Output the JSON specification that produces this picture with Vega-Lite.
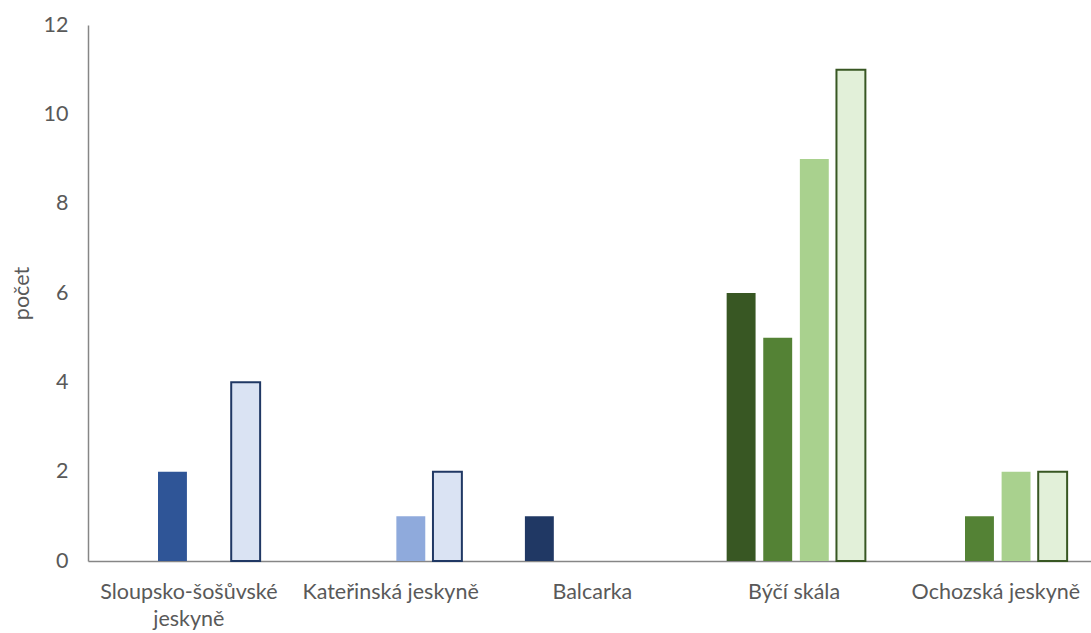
{
  "$schema": "https://vega.github.io/schema/vega-lite/v6.json",
  "width": 1003,
  "height": 536,
  "autosize": {"type": "none"},
  "padding": {"left": 88, "top": 25, "right": 0, "bottom": 72},
  "background": "white",
  "config": {
    "view": {"stroke": null},
    "font": "Lato",
    "axis": {
      "labelFont": "Lato",
      "titleFont": "Lato",
      "labelFontSize": 21.5,
      "titleFontSize": 21.5,
      "labelColor": "#595959",
      "titleColor": "#595959",
      "titleFontWeight": "normal",
      "domainColor": "#868686",
      "domainWidth": 1.5,
      "grid": false,
      "ticks": false
    }
  },
  "data": {
    "values": [
      {"jeskyne": "Sloupsko-šošůvské jeskyně", "serie": 2, "pocet": 2},
      {"jeskyne": "Sloupsko-šošůvské jeskyně", "serie": 4, "pocet": 4},
      {"jeskyne": "Kateřinská jeskyně", "serie": 3, "pocet": 1},
      {"jeskyne": "Kateřinská jeskyně", "serie": 4, "pocet": 2},
      {"jeskyne": "Balcarka", "serie": 1, "pocet": 1},
      {"jeskyne": "Býčí skála", "serie": 1, "pocet": 6},
      {"jeskyne": "Býčí skála", "serie": 2, "pocet": 5},
      {"jeskyne": "Býčí skála", "serie": 3, "pocet": 9},
      {"jeskyne": "Býčí skála", "serie": 4, "pocet": 11},
      {"jeskyne": "Ochozská jeskyně", "serie": 2, "pocet": 1},
      {"jeskyne": "Ochozská jeskyně", "serie": 3, "pocet": 2},
      {"jeskyne": "Ochozská jeskyně", "serie": 4, "pocet": 2}
    ]
  },
  "encoding": {
    "x": {
      "field": "jeskyne",
      "type": "nominal",
      "sort": ["Sloupsko-šošůvské jeskyně", "Kateřinská jeskyně", "Balcarka", "Býčí skála", "Ochozská jeskyně"],
      "scale": {"paddingInner": 0, "paddingOuter": 0, "range": [0, 1008.75]},
      "axis": {
        "title": null,
        "labelAngle": 0,
        "labelPadding": 20,
        "labelLineHeight": 27,
        "labelExpr": "datum.value == 'Sloupsko-šošůvské jeskyně' ? ['Sloupsko-šošůvské', 'jeskyně'] : datum.label"
      }
    },
    "xOffset": {
      "field": "serie",
      "type": "ordinal",
      "scale": {"domain": [1, 2, 3, 4], "paddingInner": 0.21, "paddingOuter": 0.861, "align": 0.53}
    },
    "y": {
      "field": "pocet",
      "type": "quantitative",
      "scale": {"domain": [0, 12], "nice": false},
      "axis": {"title": "počet", "values": [0, 2, 4, 6, 8, 10, 12], "labelPadding": 20, "titlePadding": 10}
    }
  },
  "layer": [
    {
      "transform": [{"filter": {"field": "jeskyne", "oneOf": ["Sloupsko-šošůvské jeskyně", "Kateřinská jeskyně", "Balcarka"]}}],
      "mark": {"type": "bar", "strokeWidth": 2},
      "encoding": {
        "color": {
          "field": "serie",
          "type": "ordinal",
          "scale": {"domain": [1, 2, 3, 4], "range": ["#203864", "#2F5597", "#8FAADC", "#DAE3F3"]},
          "legend": null
        },
        "stroke": {"condition": {"test": "datum.serie == 4", "value": "#203864"}, "value": "transparent"}
      }
    },
    {
      "transform": [{"filter": {"field": "jeskyne", "oneOf": ["Býčí skála", "Ochozská jeskyně"]}}],
      "mark": {"type": "bar", "strokeWidth": 2},
      "encoding": {
        "color": {
          "field": "serie",
          "type": "ordinal",
          "scale": {"domain": [1, 2, 3, 4], "range": ["#385723", "#548235", "#A9D18E", "#E2F0D9"]},
          "legend": null
        },
        "stroke": {"condition": {"test": "datum.serie == 4", "value": "#385723"}, "value": "transparent"}
      }
    }
  ],
  "resolve": {"scale": {"color": "independent"}}
}
